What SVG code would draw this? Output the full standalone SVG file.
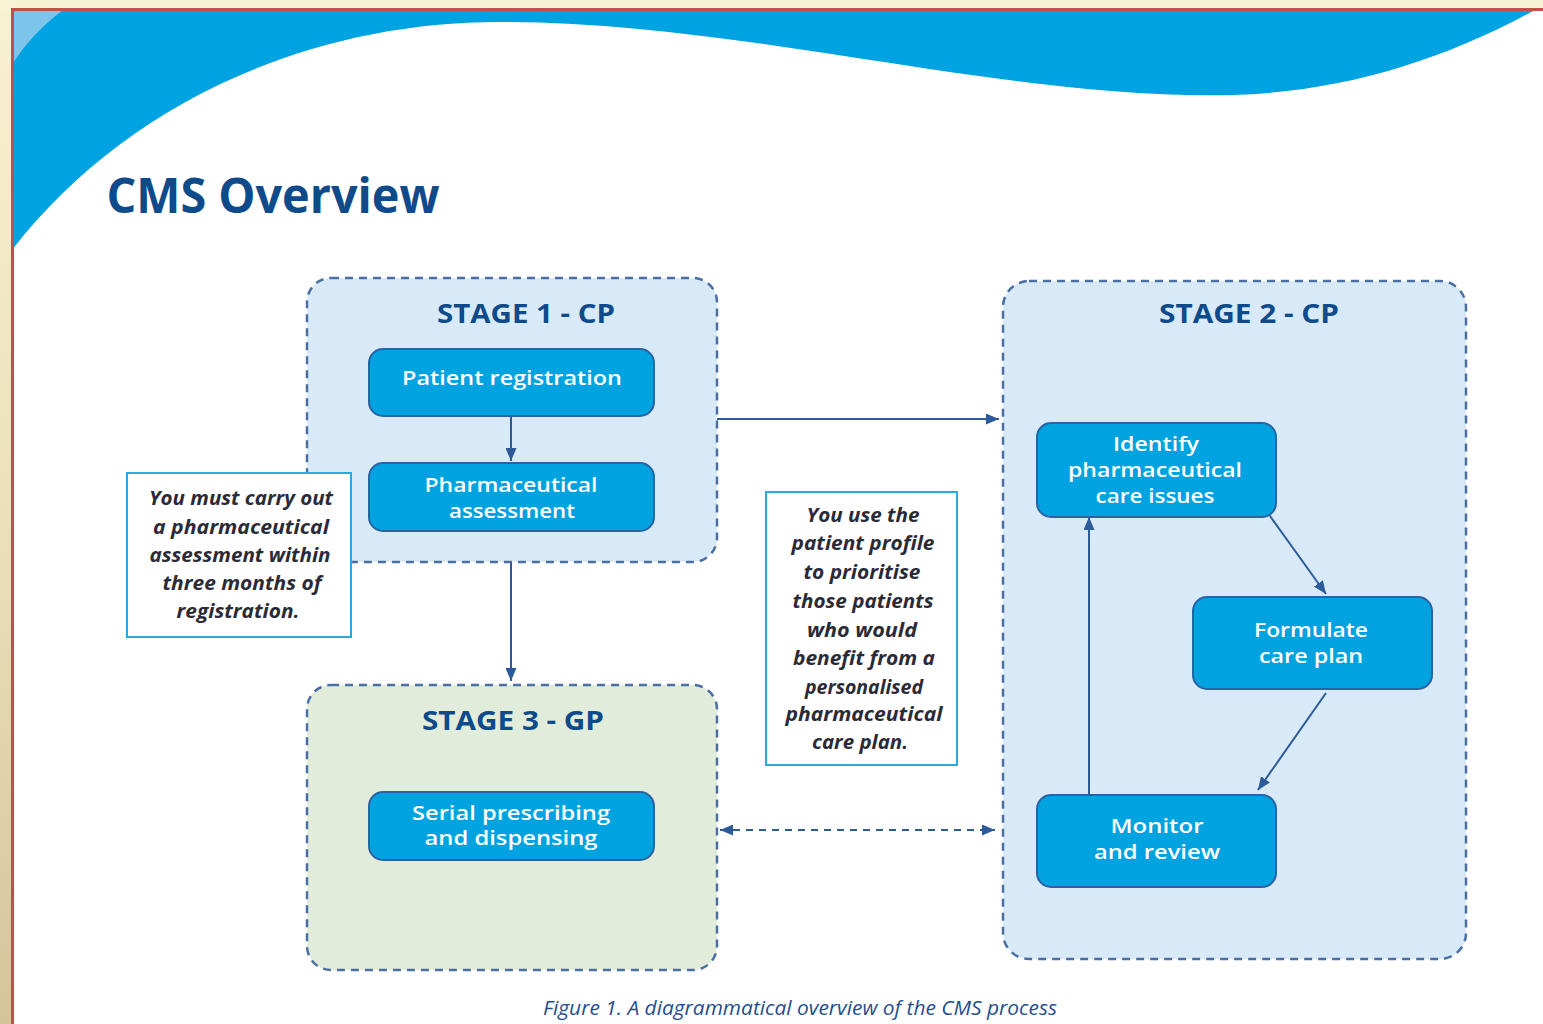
<svg xmlns="http://www.w3.org/2000/svg" width="1543" height="1024" viewBox="0 0 1543 1024">
<defs>
<linearGradient id="side" x1="0" y1="0" x2="0" y2="1">
<stop offset="0" stop-color="#f8f1d2"/>
<stop offset="0.5" stop-color="#ece0bb"/>
<stop offset="1" stop-color="#d6c49a"/>
</linearGradient>
<marker id="ah" viewBox="0 0 13 11" refX="13" refY="5.5" markerWidth="13" markerHeight="11" markerUnits="userSpaceOnUse" orient="auto-start-reverse">
<path d="M0,0 L13,5.5 L0,11 z" fill="#2d5a98"/>
</marker>
<clipPath id="page"><rect x="12" y="10" width="1531" height="1014"/></clipPath>
</defs>
<style>
.stage{stroke:#4b6fa3;stroke-width:2.5;stroke-dasharray:8 6}
.node{fill:#00a3e0;stroke:#2a62a3;stroke-width:2}
.note{fill:#ffffff;stroke:#2aa9e0;stroke-width:2}
.title{font-family:"Open Sans","Noto Sans",sans-serif;font-weight:700;fill:#0f4b8b;text-anchor:middle}
.nt{font-family:"Open Sans","Noto Sans",sans-serif;font-weight:600;fill:#ffffff;font-size:20px;text-anchor:middle}
.it{font-family:"Open Sans","Noto Sans",sans-serif;font-weight:700;font-style:italic;fill:#2b2b38;font-size:20px;text-anchor:middle}
.conn{stroke:#2d5a98;stroke-width:2;fill:none}
</style>
<rect x="0" y="0" width="1543" height="1024" fill="#f9f3d5"/>
<rect x="0" y="10" width="12" height="1014" fill="url(#side)"/>
<rect x="12" y="10" width="1531" height="1014" fill="#ffffff"/>
<g clip-path="url(#page)">
<path d="M12,10 L1535,10 C1440,62 1340,92 1233,95 C1000,100 750,22 500,22 C300,22 120,110 12,250 Z" fill="#00a3e2"/>
<path d="M12,10 L63,10 Q30,35 12,65 Z" fill="#7cc4ea"/>
</g>
<path d="M12.5,1024 L12.5,9.5 L1543,9.5" fill="none" stroke="#c0504d" stroke-width="3"/>
<text x="273" y="213" class="title" font-size="48" textLength="333" lengthAdjust="spacingAndGlyphs">CMS Overview</text>
<g id="stage1">
<rect x="307" y="278" width="410" height="284" rx="24" fill="#d8eaf8" class="stage"/>
<text x="526" y="323" class="title" font-size="27" textLength="178" lengthAdjust="spacingAndGlyphs">STAGE 1 - CP</text>
</g>
<g id="stage2">
<rect x="1003" y="281" width="463" height="678" rx="26" fill="#d8eaf8" class="stage"/>
<text x="1249" y="323" class="title" font-size="27" textLength="180" lengthAdjust="spacingAndGlyphs">STAGE 2 - CP</text>
</g>
<g id="stage3">
<rect x="307" y="685" width="410" height="285" rx="24" fill="#e1ecdb" class="stage"/>
<text x="513" y="730" class="title" font-size="27" textLength="182" lengthAdjust="spacingAndGlyphs">STAGE 3 - GP</text>
</g>
<g id="patient-registration">
<rect x="369" y="349" width="285" height="67" rx="14" class="node"/>
<text x="512" y="385" class="nt" font-size="22" textLength="220" lengthAdjust="spacingAndGlyphs">Patient registration</text>
</g>
<g id="pharmaceutical-assessment">
<rect x="369" y="463" width="285" height="68" rx="14" class="node"/>
<text x="511" y="492" class="nt" textLength="173" lengthAdjust="spacingAndGlyphs">Pharmaceutical</text>
<text x="512" y="518" class="nt" textLength="126" lengthAdjust="spacingAndGlyphs">assessment</text>
</g>
<g id="identify">
<rect x="1037" y="423" width="239" height="94" rx="14" class="node"/>
<text x="1156" y="451" class="nt" textLength="86" lengthAdjust="spacingAndGlyphs">Identify</text>
<text x="1155" y="477" class="nt" textLength="174" lengthAdjust="spacingAndGlyphs">pharmaceutical</text>
<text x="1155" y="503" class="nt" textLength="119" lengthAdjust="spacingAndGlyphs">care issues</text>
</g>
<g id="formulate">
<rect x="1193" y="597" width="239" height="92" rx="14" class="node"/>
<text x="1311" y="637" class="nt" textLength="114" lengthAdjust="spacingAndGlyphs">Formulate</text>
<text x="1311" y="663" class="nt" textLength="104" lengthAdjust="spacingAndGlyphs">care plan</text>
</g>
<g id="monitor">
<rect x="1037" y="795" width="239" height="92" rx="14" class="node"/>
<text x="1157" y="833" class="nt" textLength="93" lengthAdjust="spacingAndGlyphs">Monitor</text>
<text x="1157" y="859" class="nt" textLength="126" lengthAdjust="spacingAndGlyphs">and review</text>
</g>
<g id="serial">
<rect x="369" y="792" width="285" height="68" rx="14" class="node"/>
<text x="511" y="820" class="nt" textLength="198" lengthAdjust="spacingAndGlyphs">Serial prescribing</text>
<text x="511" y="845" class="nt" textLength="173" lengthAdjust="spacingAndGlyphs">and dispensing</text>
</g>
<g id="note1">
<rect x="127" y="473" width="224" height="164" class="note"/>
<text x="241" y="505" class="it" textLength="184" lengthAdjust="spacingAndGlyphs">You must carry out</text>
<text x="241" y="534" class="it" textLength="176" lengthAdjust="spacingAndGlyphs">a pharmaceutical</text>
<text x="240" y="562" class="it" textLength="181" lengthAdjust="spacingAndGlyphs">assessment within</text>
<text x="242" y="590" class="it" textLength="159" lengthAdjust="spacingAndGlyphs">three months of</text>
<text x="238" y="618" class="it" textLength="123" lengthAdjust="spacingAndGlyphs">registration.</text>
</g>
<g id="note2">
<rect x="766" y="492" width="191" height="273" class="note"/>
<text x="863" y="522" class="it" textLength="113" lengthAdjust="spacingAndGlyphs">You use the</text>
<text x="863" y="550" class="it" textLength="143" lengthAdjust="spacingAndGlyphs">patient profile</text>
<text x="862" y="579" class="it" textLength="117" lengthAdjust="spacingAndGlyphs">to prioritise</text>
<text x="863" y="608" class="it" textLength="141" lengthAdjust="spacingAndGlyphs">those patients</text>
<text x="862" y="637" class="it" textLength="110" lengthAdjust="spacingAndGlyphs">who would</text>
<text x="864" y="665" class="it" textLength="142" lengthAdjust="spacingAndGlyphs">benefit from a</text>
<text x="864" y="694" class="it" textLength="118" lengthAdjust="spacingAndGlyphs">personalised</text>
<text x="864" y="721" class="it" textLength="157" lengthAdjust="spacingAndGlyphs">pharmaceutical</text>
<text x="860" y="749" class="it" textLength="96" lengthAdjust="spacingAndGlyphs">care plan.</text>
</g>
<g id="connectors">
<line x1="511" y1="417" x2="511" y2="461" class="conn" marker-end="url(#ah)"/>
<line x1="717" y1="419" x2="999" y2="419" class="conn" marker-end="url(#ah)"/>
<line x1="511" y1="562" x2="511" y2="681" class="conn" marker-end="url(#ah)"/>
<line x1="1270" y1="516" x2="1326" y2="594" class="conn" marker-end="url(#ah)"/>
<line x1="1326" y1="693" x2="1258" y2="790" class="conn" marker-end="url(#ah)"/>
<line x1="1089" y1="795" x2="1089" y2="517" class="conn" marker-end="url(#ah)"/>
<line x1="720" y1="830" x2="995" y2="830" class="conn" stroke-dasharray="7 6" marker-start="url(#ah)" marker-end="url(#ah)"/>
</g>
<text x="800" y="1015" font-family="'Open Sans','Noto Sans',sans-serif" font-style="italic" font-size="20" fill="#1f4e8f" text-anchor="middle" textLength="514" lengthAdjust="spacingAndGlyphs">Figure 1. A diagrammatical overview of the CMS process</text>
</svg>
